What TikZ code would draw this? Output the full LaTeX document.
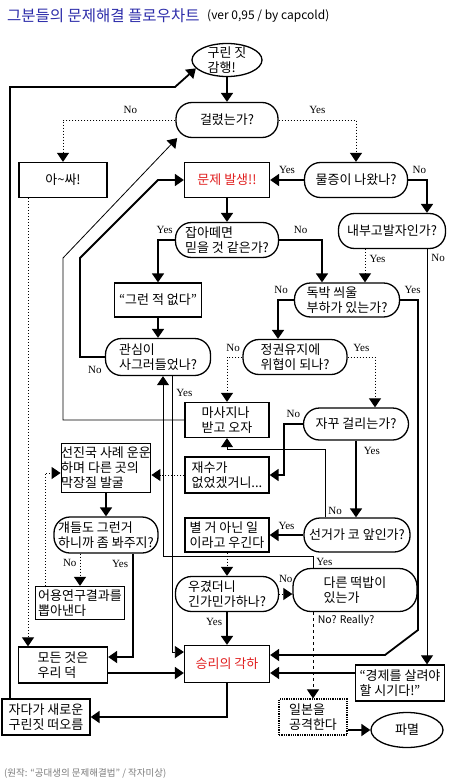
\documentclass[tikz,border=0pt]{standalone}
\usepackage{fontspec}
\setmainfont{Noto Sans CJK KR}
\newfontfamily\yn{Liberation Serif}
\usetikzlibrary{shapes.geometric,arrows.meta}
\definecolor{ttl}{RGB}{45,45,170}
\definecolor{hot}{RGB}{225,30,30}
\definecolor{note}{RGB}{125,125,125}
\begin{document}
\begin{tikzpicture}[x=1pt,y=-1pt,
    every node/.style={font=\fontsize{13}{15}\selectfont},
    box/.style={draw,line width=1.3pt,inner sep=0pt,align=left},
    pill/.style={draw,line width=1.3pt,rounded corners=16pt,inner sep=0pt,align=left},
    oval/.style={draw,ellipse,line width=1.3pt,inner sep=-2.5pt,align=left},
    yn/.style={font=\yn\fontsize{11}{12}\selectfont,inner sep=1pt},
    ln/.style={line width=1.8pt,-{Triangle[width=12pt,length=9pt]}},
    tn/.style={line width=0.8pt,-{Triangle[width=12pt,length=9pt]}},
    dl/.style={line width=1pt,dotted,-{Triangle[width=12pt,length=9pt]}}]
        \fill[white] (0,0) rectangle (455,784);
        \useasboundingbox (0,0) rectangle (455,784);
        % title and source
        \node[anchor=west,inner sep=0,text=ttl,font=\fontsize{15.5}{17}\selectfont] (title) at (7,16) {그분들의 문제해결 플로우차트};
        \node[anchor=west,inner sep=0,font=\fontsize{12}{13}\selectfont] (ver) at (207,16) {(ver 0,95 / by capcold)};
        \node[anchor=west,inner sep=0,text=note,font=\fontsize{9.5}{11}\selectfont] (src) at (4,773) {(원작: “공대생의 문제해결법” / 작자미상)};
        % boxes
        \node[oval,minimum width=70pt,minimum height=33pt] (start) at (227,60) {구린 짓\\감행!};
        \node[pill,minimum width=102pt,minimum height=35pt] (caught) at (227,120) {걸렸는가?};
        \node[box,minimum width=88pt,minimum height=35pt] (yay) at (63,180) {아\char126 싸!};
        \node[box,minimum width=85pt,minimum height=35pt,text=hot] (prob) at (227,180) {문제 발생!!};
        \node[pill,minimum width=103pt,minimum height=35pt] (evid) at (356,180) {물증이 나왔나?};
        \node[pill,minimum width=103pt,minimum height=35pt] (deny) at (227,240) {잡아떼면\\믿을 것 같은가?};
        \node[pill,minimum width=107pt,minimum height=35pt] (whistle) at (392,231) {내부고발자인가?};
        \node[box,minimum width=87pt,minimum height=34pt] (never) at (158,300) {“그런 적 없다”};
        \node[pill,minimum width=105pt,minimum height=34pt] (scape) at (347,300) {독박 씌울\\부하가 있는가?};
        \node[pill,minimum width=105pt,minimum height=37pt] (fade) at (158,357) {관심이\\사그러들었나?};
        \node[pill,minimum width=104pt,minimum height=35pt] (threat) at (295,357) {정권유지에\\위협이 되나?};
        \node[box,minimum width=84pt,minimum height=35pt] (massage) at (227,420) {마사지나\\받고 오자};
        \node[pill,minimum width=105pt,minimum height=32pt] (again) at (356,424) {자꾸 걸리는가?};
        \node[box,minimum width=87pt,minimum height=49pt] (abroad) at (106,468) {선진국 사례 운운\\하며 다른 곳의\\막장질 발굴};
        \node[box,minimum width=84pt,minimum height=36pt] (luck) at (227,475) {재수가\\없었겠거니...};
        \node[pill,minimum width=104pt,minimum height=36pt] (them) at (106,535) {걔들도 그런거\\하니까 좀 봐주지?};
        \node[box,minimum width=84pt,minimum height=34pt] (insist) at (227,535) {별 거 아닌 일\\이라고 우긴다};
        \node[pill,minimum width=106pt,minimum height=34pt] (elect) at (357,535) {선거가 코 앞인가?};
        \node[box,minimum width=89pt,minimum height=33pt] (study) at (80,603) {어용연구결과를\\뽑아낸다};
        \node[pill,minimum width=103pt,minimum height=35pt] (unsure) at (227,594) {우겼더니\\긴가민가하나?};
        \node[pill,rounded corners=18pt,minimum width=124pt,minimum height=43pt] (bait) at (355,590) {다른 떡밥이\\있는가};
        \node[box,minimum width=89pt,minimum height=36pt] (ours) at (63,665) {모든 것은\\우리 덕};
        \node[box,minimum width=85pt,minimum height=37pt,text=hot] (win) at (227,664) {승리의 각하};
        \node[box,minimum width=89pt,minimum height=36pt] (econ) at (400,683) {“경제를 살려야\\할 시기다!”};
        \node[box,minimum width=88pt,minimum height=36pt] (sleep) at (46,717) {자다가 새로운\\구린짓 떠오름};
        \node[box,densely dotted,line width=1.1pt,minimum width=68pt,minimum height=36pt] (japan) at (313,717) {일본을\\공격한다};
        \node[oval,inner sep=1pt,minimum width=72pt,minimum height=35pt] (ruin) at (407,730) {파멸};
        % connectors
        \draw[ln] (start) -- (caught);
        \draw[dl] (caught.west) -| node[pos=0.2,above=5pt,yn]{No} (yay.north);
        \draw[dl] (caught.east) -| node[pos=0.25,above=5pt,yn]{Yes} (evid.north);
        \draw[ln] (evid.west) -- node[above=4pt,yn]{Yes} (prob.east);
        \draw[ln] (evid.east) -| node[pos=0.3,above=4pt,yn]{No} ([xshift=35pt]whistle.north);
        \draw[ln] (prob) -- (deny);
        \draw[ln] (deny.west) -| node[pos=0.3,above=4pt,yn]{Yes} (never.north);
        \draw[ln] (deny.east) -| node[pos=0.25,above=4pt,yn]{No} ([xshift=-25pt]scape.north);
        \draw[dl] ([xshift=-27pt]whistle.south) -- node[pos=0.3,right=3pt,yn]{Yes} ([xshift=-27pt]whistle.south |- scape.north);
        \draw[tn] ([xshift=35pt]whistle.south) -- node[pos=0.02,right=3pt,yn]{No} ([xshift=35pt]whistle.south |- econ.north);
        \draw[ln] (scape.east) -| node[pos=0.35,above=4pt,yn]{Yes} (418,630) -- (385,655) -- ([yshift=9pt]win.east);
        \draw[ln] (scape.west) -| node[pos=0.4,above=4pt,yn]{No} ([xshift=-17pt]threat.north);
        \draw[ln] (never) -- (fade);
        \draw[ln] (fade.west) -| node[pos=0.2,below=7pt,yn]{No} (80,258) -- (158,180) -- (prob.west);
        \draw[tn] (massage.west) -| (63,258) -- (caught.200);
        \draw[dl] ([xshift=-35pt]yay.south) -- ([xshift=-35pt]yay.south |- ours.north);
        \draw[ln] ([xshift=-36pt]sleep.north) |- (175,87) -- (start.195);
        \draw[dl] (threat.west) -| node[pos=0.3,above=4pt,yn]{No} (massage.north);
        \draw[dl] (threat.east) -| node[pos=0.25,above=4pt,yn]{Yes} ([xshift=19pt]again.north);
        \draw[ln] (again.west) -- node[above=4pt,yn]{No} ++(-19,0) |- (luck.east);
        \draw[ln] (again.south) -- node[pos=0.13,right=6pt,yn]{Yes} (again.south |- elect.north);
        \draw[tn] ([xshift=-32pt]elect.north) -- node[pos=0.1,right=2pt,yn]{No} ++(0,-68) -| (massage.south);
        \draw[dl] (luck.west) -- (luck.west -| abroad.east);
        \draw[ln] (abroad) -- (them);
        \draw[dl] ([xshift=-26pt]them.south) -- node[pos=0.3,left=2pt,yn]{No} (study.north);
        \draw[ln] ([xshift=27pt]them.south) |- node[pos=0.05,left=3pt,yn]{Yes} ([yshift=8pt]ours.east);
        \draw[dl] ([xshift=-35pt]study.north) |- ([yshift=-5pt]abroad.west);
        \draw[ln] (elect.west) -- node[above=3pt,yn]{Yes} (insist.east);
        \draw[dl] (insist) -- (unsure);
        \draw[dl] (unsure.east) -- node[above=10pt,yn]{No} (unsure.east -| bait.west);
        \draw[ln] (unsure) -- node[pos=0.3,left=3pt,yn]{Yes} (win);
        \draw[ln,dashed,line width=1pt] ([xshift=-42pt]bait.south) -- node[pos=0.1,right=1pt,font=\fontsize{10.5}{12}\selectfont]{No? Really?} (japan.north);
        \draw[tn] ([xshift=-42pt]bait.north) -- node[pos=0.5,right=2pt,yn]{Yes} ++(0,-11) -| ([xshift=5pt]fade.south);
        \draw[tn] ([xshift=14pt]fade.south) |- node[pos=0.03,right=3pt,yn]{Yes} ([yshift=12pt]win.west);
        \draw[ln] ([yshift=-8pt]ours.east) -- ([yshift=-8pt]ours.east -| win.west);
        \draw[ln] ([yshift=10pt]econ.west) -- ([yshift=10pt]econ.west -| win.east);
        \draw[ln] (win.south) |- (sleep.east);
        \draw[ln] ([yshift=-13pt]japan.east) -- (ruin.west);
\end{tikzpicture}
\end{document}
